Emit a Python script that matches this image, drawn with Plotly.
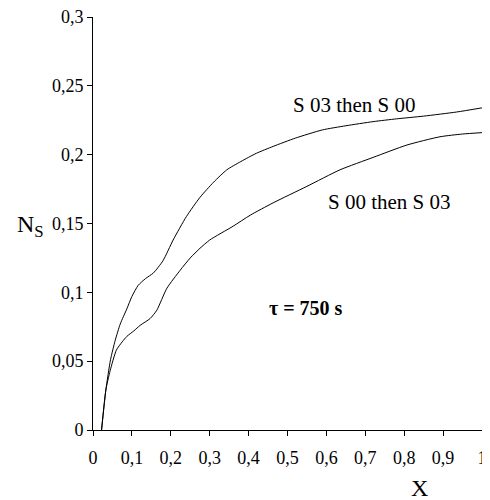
import plotly.graph_objects as go

# S 03 then S 00 (upper curve)
x_s03_s00 = [0.022, 0.033, 0.045, 0.057, 0.07, 0.087, 0.1, 0.116, 0.135, 0.155, 0.18, 0.206,
             0.24, 0.275, 0.31, 0.344, 0.38, 0.42, 0.463, 0.52, 0.59, 0.65, 0.72, 0.78, 0.85, 0.935, 1.0]
y_s03_s00 = [0.0, 0.029, 0.051, 0.065, 0.077, 0.088, 0.097, 0.105, 0.110, 0.114, 0.123, 0.138,
             0.155, 0.169, 0.180, 0.189, 0.195, 0.201, 0.206, 0.212, 0.218, 0.221, 0.224, 0.226, 0.228, 0.231, 0.234]

# S 00 then S 03 (lower curve)
x_s00_s03 = [0.022, 0.033, 0.044, 0.06, 0.075, 0.087, 0.105, 0.121, 0.147, 0.164, 0.19, 0.224,
             0.25, 0.275, 0.30, 0.36, 0.404, 0.463, 0.55, 0.635, 0.72, 0.807, 0.892, 0.95, 1.0]
y_s00_s03 = [0.0, 0.029, 0.043, 0.058, 0.064, 0.068, 0.072, 0.076, 0.081, 0.087, 0.103, 0.116,
             0.125, 0.132, 0.138, 0.148, 0.156, 0.165, 0.177, 0.189, 0.198, 0.207, 0.213, 0.215, 0.216]

x_tickvals = [0, 0.1, 0.2, 0.3, 0.4, 0.5, 0.6, 0.7, 0.8, 0.9, 1.0]
x_ticktext = ["0", "0,1", "0,2", "0,3", "0,4", "0,5", "0,6", "0,7", "0,8", "0,9", "1"]
y_tickvals = [0, 0.05, 0.1, 0.15, 0.2, 0.25, 0.3]
y_ticktext = ["0", "0,05", "0,1", "0,15", "0,2", "0,25", "0,3"]

FONT = "Liberation Serif"

# page body has an 8px default margin; size the figure to fill the rest
OFF = 8
W, H = 490 - OFF, 500 - OFF
L, R, T, B = 93 - OFF, 8, 17 - OFF, 70
PW, PH = W - L - R, H - T - B


def px_to_paper(px, py):
    return (px - OFF - L) / PW, (H - B - (py - OFF)) / PH


fig = go.Figure()
fig.add_trace(go.Scatter(x=x_s03_s00, y=y_s03_s00, mode="lines",
                         line=dict(color="black", width=1, shape="spline", smoothing=0.6),
                         showlegend=False))
fig.add_trace(go.Scatter(x=x_s00_s03, y=y_s00_s03, mode="lines",
                         line=dict(color="black", width=1, shape="spline", smoothing=0.6),
                         showlegend=False))

xl_x, xl_y = px_to_paper(430, 503)
ns_x, ns_y = px_to_paper(15, 226)

fig.update_layout(
    width=W, height=H,
    margin=dict(l=L, r=R, t=T, b=B),
    paper_bgcolor="white", plot_bgcolor="white",
    font=dict(family=FONT, size=18, color="black"),
    xaxis=dict(range=[0, 1], tickvals=x_tickvals, ticktext=x_ticktext,
               showline=True, linecolor="black", linewidth=1,
               ticks="outside", ticklen=5, tickcolor="black", tickwidth=1,
               showgrid=False, zeroline=False, tickfont=dict(family=FONT, size=18),
               ticklabelstandoff=6, ticklabeloverflow="allow", automargin=False),
    yaxis=dict(range=[0, 0.3], tickvals=y_tickvals, ticktext=y_ticktext,
               showline=True, linecolor="black", linewidth=1,
               ticks="outside", ticklen=5, tickcolor="black", tickwidth=1,
               showgrid=False, zeroline=False, tickfont=dict(family=FONT, size=18),
               ticklabeloverflow="allow", automargin=False),
    annotations=[
        dict(x=0.673, y=0.236, xref="x", yref="y", text="S 03 then S 00", showarrow=False,
             font=dict(family=FONT, size=21)),
        dict(x=0.763, y=0.1656, xref="x", yref="y", text="S 00 then S 03", showarrow=False,
             font=dict(family=FONT, size=21)),
        dict(x=0.548, y=0.0886, xref="x", yref="y", text="<b>τ = 750 s</b>", showarrow=False,
             font=dict(family=FONT, size=20)),
        dict(x=xl_x, y=xl_y, xref="paper", yref="paper", text="X", showarrow=False,
             font=dict(family=FONT, size=24)),
        dict(x=ns_x, y=ns_y, xref="paper", yref="paper", xanchor="left",
             text="N<sub>S</sub>", showarrow=False,
             font=dict(family=FONT, size=24)),
    ],
)

fig.write_html("out.html")
